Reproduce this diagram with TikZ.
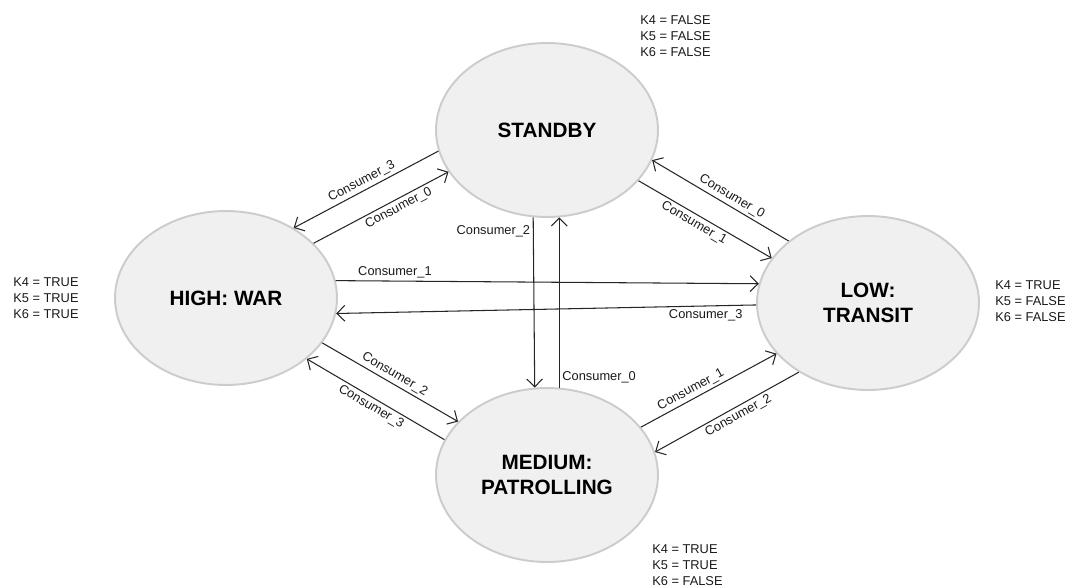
\documentclass[tikz,border=0pt]{standalone}
\usepackage{fontspec}
\setmainfont{Liberation Sans}
\usetikzlibrary{shapes.geometric}
\usetikzlibrary{arrows.meta}

\begin{document}
\begin{tikzpicture}[x=0.02cm,y=-0.02cm,
state/.style={ellipse,draw=black!20,line width=1.1pt,fill=black!6,
minimum width=4.44cm,minimum height=3.48cm,align=center,
font=\fontsize{11.8}{14.2}\selectfont\bfseries},
vars/.style={anchor=west,align=left,inner sep=0pt,
font=\fontsize{7.3}{9.2}\selectfont,text=black!90},
trans/.style={-{Straight Barb[length=4.5pt,width=9pt]},line width=0.6pt,draw=black!85},
lbl/.style={font=\fontsize{7.3}{8.8}\selectfont,inner sep=1.5pt,text=black!90}]
\useasboundingbox (0,0) rectangle (1073,586);

\node[state] (standby) at (547,130) {STANDBY};
\node[state] (high) at (226,298) {HIGH: WAR};
\node[state] (low) at (868,303) {LOW:\\TRANSIT};
\node[state] (medium) at (547,475) {MEDIUM:\\PATROLLING};

\node[vars] (kstandby) at (640,36) {K4 = FALSE\\K5 = FALSE\\K6 = FALSE};
\node[vars] (khigh) at (13,298) {K4 = TRUE\\K5 = TRUE\\K6 = TRUE};
\node[vars] (klow) at (995,301) {K4 = TRUE\\K5 = FALSE\\K6 = FALSE};
\node[vars] (kmedium) at (652,565) {K4 = TRUE\\K5 = TRUE\\K6 = FALSE};

\draw[trans] (standby.191) -- (high.46) node[lbl,midway,above,sloped]{Consumer\_3};
\draw[trans] (high.32.5) -- (standby.203) node[lbl,pos=0.6,below,sloped]{Consumer\_0};
\draw[trans] (standby.261.5) -- (medium.98.5) node[lbl,pos=0.08,left]{Consumer\_2};
\draw[trans] (medium.82) -- (standby.278) node[lbl,pos=0.06,right]{Consumer\_0};
\draw[trans] (low.142.7) -- (standby.344) node[lbl,pos=0.45,above,sloped]{Consumer\_0};
\draw[trans] (standby.331.5) -- (low.155.3) node[lbl,pos=0.45,below,sloped]{Consumer\_1};
\draw[trans] (high.9.7) -- (low.170.3) node[lbl,pos=0.14,above]{Consumer\_1};
\draw[trans] (low.181.5) -- (high.352.8) node[lbl,pos=0.12,below]{Consumer\_3};
\draw[trans] (high.335.8) -- (medium.149.5) node[lbl,midway,above,sloped]{Consumer\_2};
\draw[trans] (medium.161.4) -- (high.323.4) node[lbl,midway,below,sloped]{Consumer\_3};
\draw[trans] (medium.27.3) -- (low.209.5) node[lbl,pos=0.4,above,sloped]{Consumer\_1};
\draw[trans] (low.225) -- (medium.12.8) node[lbl,pos=0.45,below,sloped]{Consumer\_2};
\end{tikzpicture}
\end{document}
